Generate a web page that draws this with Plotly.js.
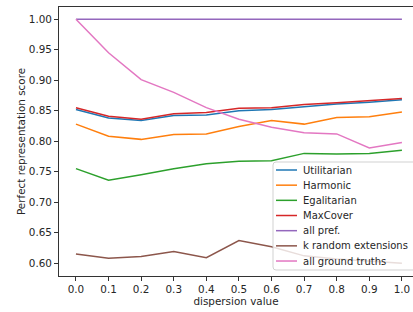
<!DOCTYPE html>
<html><head><meta charset="utf-8">
<script src="https://cdn.plot.ly/plotly-3.0.1.min.js"></script>
<style>html,body{margin:0;padding:0;background:#fff}#chart{width:413px;height:312px}</style>
</head><body><div id="chart"></div>
<script>
const dispersion = [0.0,0.1,0.2,0.3,0.4,0.5,0.6,0.7,0.8,0.9,1.0];
const tickLabels = ["0.0","0.1","0.2","0.3","0.4","0.5","0.6","0.7","0.8","0.9","1.0"];
const utilitarian = [0.852,0.838,0.834,0.842,0.843,0.850,0.852,0.857,0.861,0.864,0.868];
const harmonic = [0.828,0.808,0.803,0.811,0.812,0.824,0.834,0.828,0.839,0.840,0.848];
const egalitarian = [0.755,0.736,0.745,0.755,0.763,0.767,0.768,0.780,0.779,0.780,0.785];
const maxCover = [0.855,0.841,0.836,0.845,0.847,0.854,0.855,0.860,0.863,0.866,0.870];
const allPref = [1,1,1,1,1,1,1,1,1,1,1];
const kRandom = [0.615,0.608,0.611,0.619,0.609,0.637,0.627,0.612,0.607,0.604,0.600];
const allGroundTruths = [1.0,0.945,0.901,0.880,0.855,0.836,0.823,0.814,0.812,0.789,0.798];

const names = ["Utilitarian","Harmonic","Egalitarian","MaxCover","all pref.","k random extensions","all ground truths"];
const series = [utilitarian,harmonic,egalitarian,maxCover,allPref,kRandom,allGroundTruths];
const colors = ["#1f77b4","#ff7f0e","#2ca02c","#d62728","#9467bd","#8c564b","#e377c2"];

const traces = series.map((s,i)=>({x:dispersion,y:s,name:names[i],type:"scatter",mode:"lines",
  line:{color:colors[i],width:1.5},showlegend:false}));

// plot area in pixels
const L=59, R=413, T=7, B=276;
const px = v => (v-L)/(R-L);
const py = v => (B-v)/(B-T);
const font = {family:"DejaVu Sans",size:10.4,color:"#262626"};
const legFont = {family:"DejaVu Sans",size:10,color:"#262626"};

// custom legend (matplotlib look)
const bx0=273, bx1=416, by0=162, by1=270, r=3;
const rx=r/(R-L), ry=r/(B-T);
const X0=px(bx0), X1=px(bx1), Y0=py(by1), Y1=py(by0);
const boxPath = `M ${X0+rx} ${Y0} L ${X1-rx} ${Y0} Q ${X1} ${Y0} ${X1} ${Y0+ry} L ${X1} ${Y1-ry} Q ${X1} ${Y1} ${X1-rx} ${Y1} L ${X0+rx} ${Y1} Q ${X0} ${Y1} ${X0} ${Y1-ry} L ${X0} ${Y0+ry} Q ${X0} ${Y0} ${X0+rx} ${Y0} Z`;
const shapes = [{type:"path",xref:"paper",yref:"paper",path:boxPath,fillcolor:"rgba(255,255,255,0.8)",
  line:{color:"rgba(204,204,204,0.9)",width:1},layer:"above"}];
const annotations = [];
const rowY0 = 170, rowStep = 15.17;
names.forEach((n,i)=>{
  const yy = py(rowY0+i*rowStep);
  shapes.push({type:"line",xref:"paper",yref:"paper",x0:px(276),x1:px(297),y0:yy,y1:yy,
    line:{color:colors[i],width:1.5},layer:"above"});
  annotations.push({xref:"paper",yref:"paper",x:px(302),y:yy,xanchor:"left",yanchor:"middle",
    text:n,showarrow:false,font:legFont,borderpad:0});
});

const layout = {
  width:413,height:312,
  margin:{l:L,r:413-R,t:T,b:312-B},
  paper_bgcolor:"#fff",plot_bgcolor:"#fff",
  font:font,
  showlegend:false,
  shapes:shapes,annotations:annotations,
  xaxis:{range:[-0.052,1.034],tickvals:dispersion,ticktext:tickLabels,showgrid:false,zeroline:false,
    showline:true,linecolor:"#333",linewidth:1,mirror:true,ticks:"outside",ticklen:4,tickcolor:"#333",
    title:{text:"dispersion value",font:font,standoff:3}},
  yaxis:{range:[0.579,1.020],tickvals:[0.60,0.65,0.70,0.75,0.80,0.85,0.90,0.95,1.00],
    ticktext:["0.60","0.65","0.70","0.75","0.80","0.85","0.90","0.95","1.00"],showgrid:false,zeroline:false,
    showline:true,linecolor:"#333",linewidth:1,ticks:"outside",ticklen:4,tickcolor:"#333",
    title:{text:"Perfect representation score",font:font,standoff:1}}
};
Plotly.newPlot("chart",traces,layout,{staticPlot:true,displayModeBar:false});
</script></body></html>
